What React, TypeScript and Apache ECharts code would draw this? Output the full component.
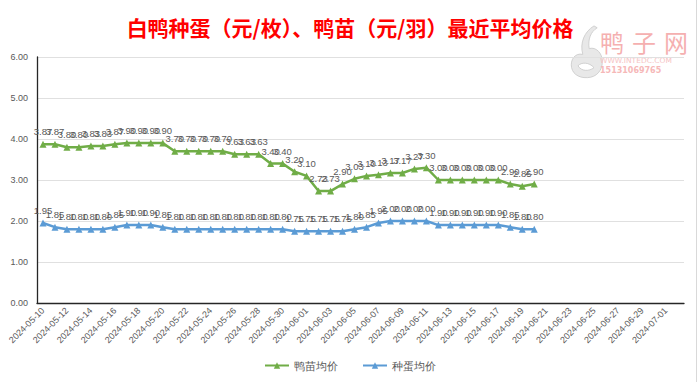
import React, { useEffect, useRef } from "react";
import * as echarts from "echarts";

const dates = [
  "2024-05-10","2024-05-11","2024-05-12","2024-05-13","2024-05-14","2024-05-15","2024-05-16","2024-05-17","2024-05-18","2024-05-19",
  "2024-05-20","2024-05-21","2024-05-22","2024-05-23","2024-05-24","2024-05-25","2024-05-26","2024-05-27","2024-05-28","2024-05-29",
  "2024-05-30","2024-05-31","2024-06-01","2024-06-02","2024-06-03","2024-06-04","2024-06-05","2024-06-06","2024-06-07","2024-06-08",
  "2024-06-09","2024-06-10","2024-06-11","2024-06-12","2024-06-13","2024-06-14","2024-06-15","2024-06-16","2024-06-17","2024-06-18",
  "2024-06-19","2024-06-20","2024-06-21","2024-06-22","2024-06-23","2024-06-24","2024-06-25","2024-06-26","2024-06-27","2024-06-28",
  "2024-06-29","2024-06-30","2024-07-01","2024-07-02",
];

const duckling = [
  3.87,3.87,3.80,3.80,3.83,3.83,3.87,3.90,3.90,3.90,3.90,3.70,3.70,3.70,3.70,3.70,3.63,3.63,3.63,3.40,3.40,
  3.20,3.10,2.73,2.73,2.90,3.03,3.10,3.13,3.17,3.17,3.27,3.30,3.00,3.00,3.00,3.00,3.00,3.00,2.90,2.85,2.90,
];

const eggs = [
  1.95,1.85,1.80,1.80,1.80,1.80,1.85,1.90,1.90,1.90,1.85,1.80,1.80,1.80,1.80,1.80,1.80,1.80,1.80,1.80,1.80,
  1.75,1.75,1.75,1.75,1.75,1.80,1.85,1.95,2.00,2.00,2.00,2.00,1.90,1.90,1.90,1.90,1.90,1.90,1.85,1.80,1.80,
];

const seriesNames = ["鸭苗均价", "种蛋均价"];
const titleText = "白鸭种蛋（元/枚）、鸭苗（元/羽）最近平均价格";
const brandChars = ["鸭", "子", "网"];

const duckPath =
  "M30 2 C18 8 12 20 16 32 C6 30 0 38 2 46 C4 54 14 58 26 56 C36 54 42 46 40 36 C38 28 30 24 24 26 C22 16 26 8 34 4 Z M10 44 C14 40 24 40 30 46 C24 50 14 50 10 44 Z";

export default function App() {
  const ref = useRef<HTMLDivElement>(null);
  useEffect(() => {
    if (!ref.current) return;
    try {
      echarts.graphic.registerShape("duck", echarts.graphic.extendPath(duckPath, {}));
    } catch (e) {}
    const chart = echarts.init(ref.current, null, { renderer: "svg" });
    const labelStyle = {
      show: true,
      position: "top" as const,
      fontSize: 9.5,
      color: "#595959",
      distance: 4,
      formatter: (p: any) => Number(p.value).toFixed(2),
    };
    const brand = brandChars.map((c, i) => ({
      type: "text",
      x: 600 + i * 32,
      y: 29,
      style: { text: c, fill: "#F5B0B0", font: "24px 'Noto Sans CJK SC'" },
      z: 0,
    }));
    chart.setOption({
      animation: false,
      backgroundColor: "#ffffff",
      title: {
        text: titleText,
        left: "center",
        top: 11,
        textStyle: { color: "#FF0000", fontSize: 21, fontWeight: "bold", fontFamily: "Noto Sans CJK SC" },
      },
      graphic: [
        {
          type: "duck",
          x: 570,
          y: 24,
          scaleX: 0.8,
          scaleY: 0.95,
          style: { fill: "#E8E8E8", stroke: "#CCCCCC", lineWidth: 1 },
          z: 0,
        },
        ...brand,
        {
          type: "text",
          x: 600,
          y: 56,
          style: { text: "WWW.INTEDC.COM", fill: "#F6C4C4", font: "7.5px 'DejaVu Sans'" },
          z: 0,
        },
        {
          type: "text",
          x: 600,
          y: 66,
          style: { text: "15131069765", fill: "#F6B8B8", font: "bold 8px 'DejaVu Sans'" },
          z: 0,
        },
        {
          type: "line",
          shape: { x1: 696.5, y1: 0, x2: 696.5, y2: 382 },
          style: { stroke: "#D9D9D9", lineWidth: 1 },
        },
      ],
      grid: { left: 37, right: 16, top: 57, bottom: 79, containLabel: false },
      legend: {
        bottom: 6,
        left: "center",
        itemWidth: 24,
        itemHeight: 8,
        itemGap: 24,
        textStyle: { color: "#595959", fontSize: 10.5 },
        data: seriesNames,
      },
      xAxis: {
        type: "category",
        data: dates,
        boundaryGap: true,
        axisLine: { lineStyle: { color: "#262626", width: 1.3 } },
        axisTick: { show: false },
        axisLabel: { interval: 1, rotate: 45, fontSize: 9, color: "#595959", margin: 6 },
      },
      yAxis: {
        type: "value",
        min: 0,
        max: 6,
        interval: 1,
        axisLine: { show: true, lineStyle: { color: "#262626", width: 1.3 } },
        axisTick: { show: false },
        axisLabel: { fontSize: 9, color: "#595959", formatter: (v: number) => v.toFixed(2), margin: 9 },
        splitLine: { lineStyle: { color: "#E0E0E0", width: 1 } },
      },
      series: [
        {
          name: seriesNames[0],
          type: "line",
          data: duckling,
          symbol: "triangle",
          symbolSize: 7,
          lineStyle: { color: "#70AD47", width: 2.5 },
          itemStyle: { color: "#70AD47" },
          label: labelStyle,
        },
        {
          name: seriesNames[1],
          type: "line",
          data: eggs,
          symbol: "triangle",
          symbolSize: 7,
          lineStyle: { color: "#5B9BD5", width: 2.5 },
          itemStyle: { color: "#5B9BD5" },
          label: labelStyle,
        },
      ],
    });
    return () => chart.dispose();
  }, []);
  return (
    <div
      ref={ref}
      style={{ position: "absolute", left: 0, top: 0, width: 700, height: 382 }}
    />
  );
}
